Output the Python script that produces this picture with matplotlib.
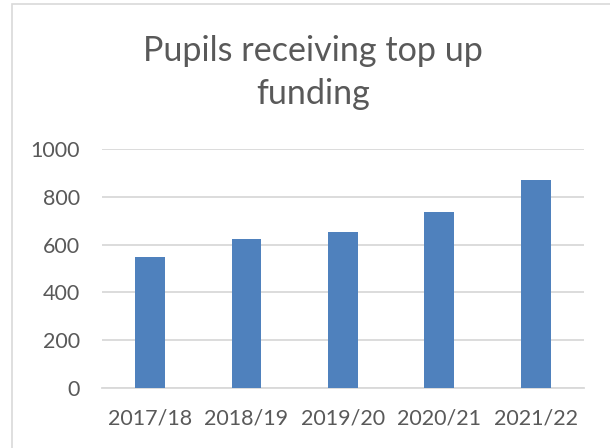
import matplotlib.pyplot as plt
from matplotlib.patches import Rectangle

# Data
years = ['2017/18', '2018/19', '2019/20', '2020/21', '2021/22']
pupils = [550, 625, 655, 738, 872]
y_ticks = [0, 200, 400, 600, 800, 1000]

plt.rcParams['font.family'] = ['Lato', 'DejaVu Sans']
text_grey = '#595959'

fig = plt.figure(figsize=(6.1, 4.48), dpi=100)
ax = fig.add_axes([0.167, 0.134, 0.790, 0.533])

ax.bar(years, pupils, width=0.31, color='#4F81BD', zorder=3)

ax.set_ylim(0, 1000)
ax.set_xlim(-0.5, len(years) - 0.5)
ax.set_yticks(y_ticks)
ax.grid(axis='y', color='#D9D9D9', linewidth=1.3, zorder=0)
ax.tick_params(axis='both', length=0, labelsize=15.5, colors=text_grey)
ax.tick_params(axis='y', pad=16)
ax.tick_params(axis='x', pad=15)
for side in ['top', 'right', 'left']:
    ax.spines[side].set_visible(False)
ax.spines['bottom'].set_color('#D9D9D9')
ax.spines['bottom'].set_linewidth(1.3)

# Title in two lines, like the Excel chart
fig.text(0.513, 0.838, 'Pupils receiving top up\nfunding', ha='center', va='center',
         fontsize=24.6, color=text_grey, linespacing=1.45)

# light chart border
fig.patches.append(Rectangle((12 / 610, -0.1), 1.2, 1 - 4 / 448 + 0.1,
                             transform=fig.transFigure, fill=False,
                             edgecolor='#D9D9D9', linewidth=1.2))

fig.savefig('out.png', dpi=100)
